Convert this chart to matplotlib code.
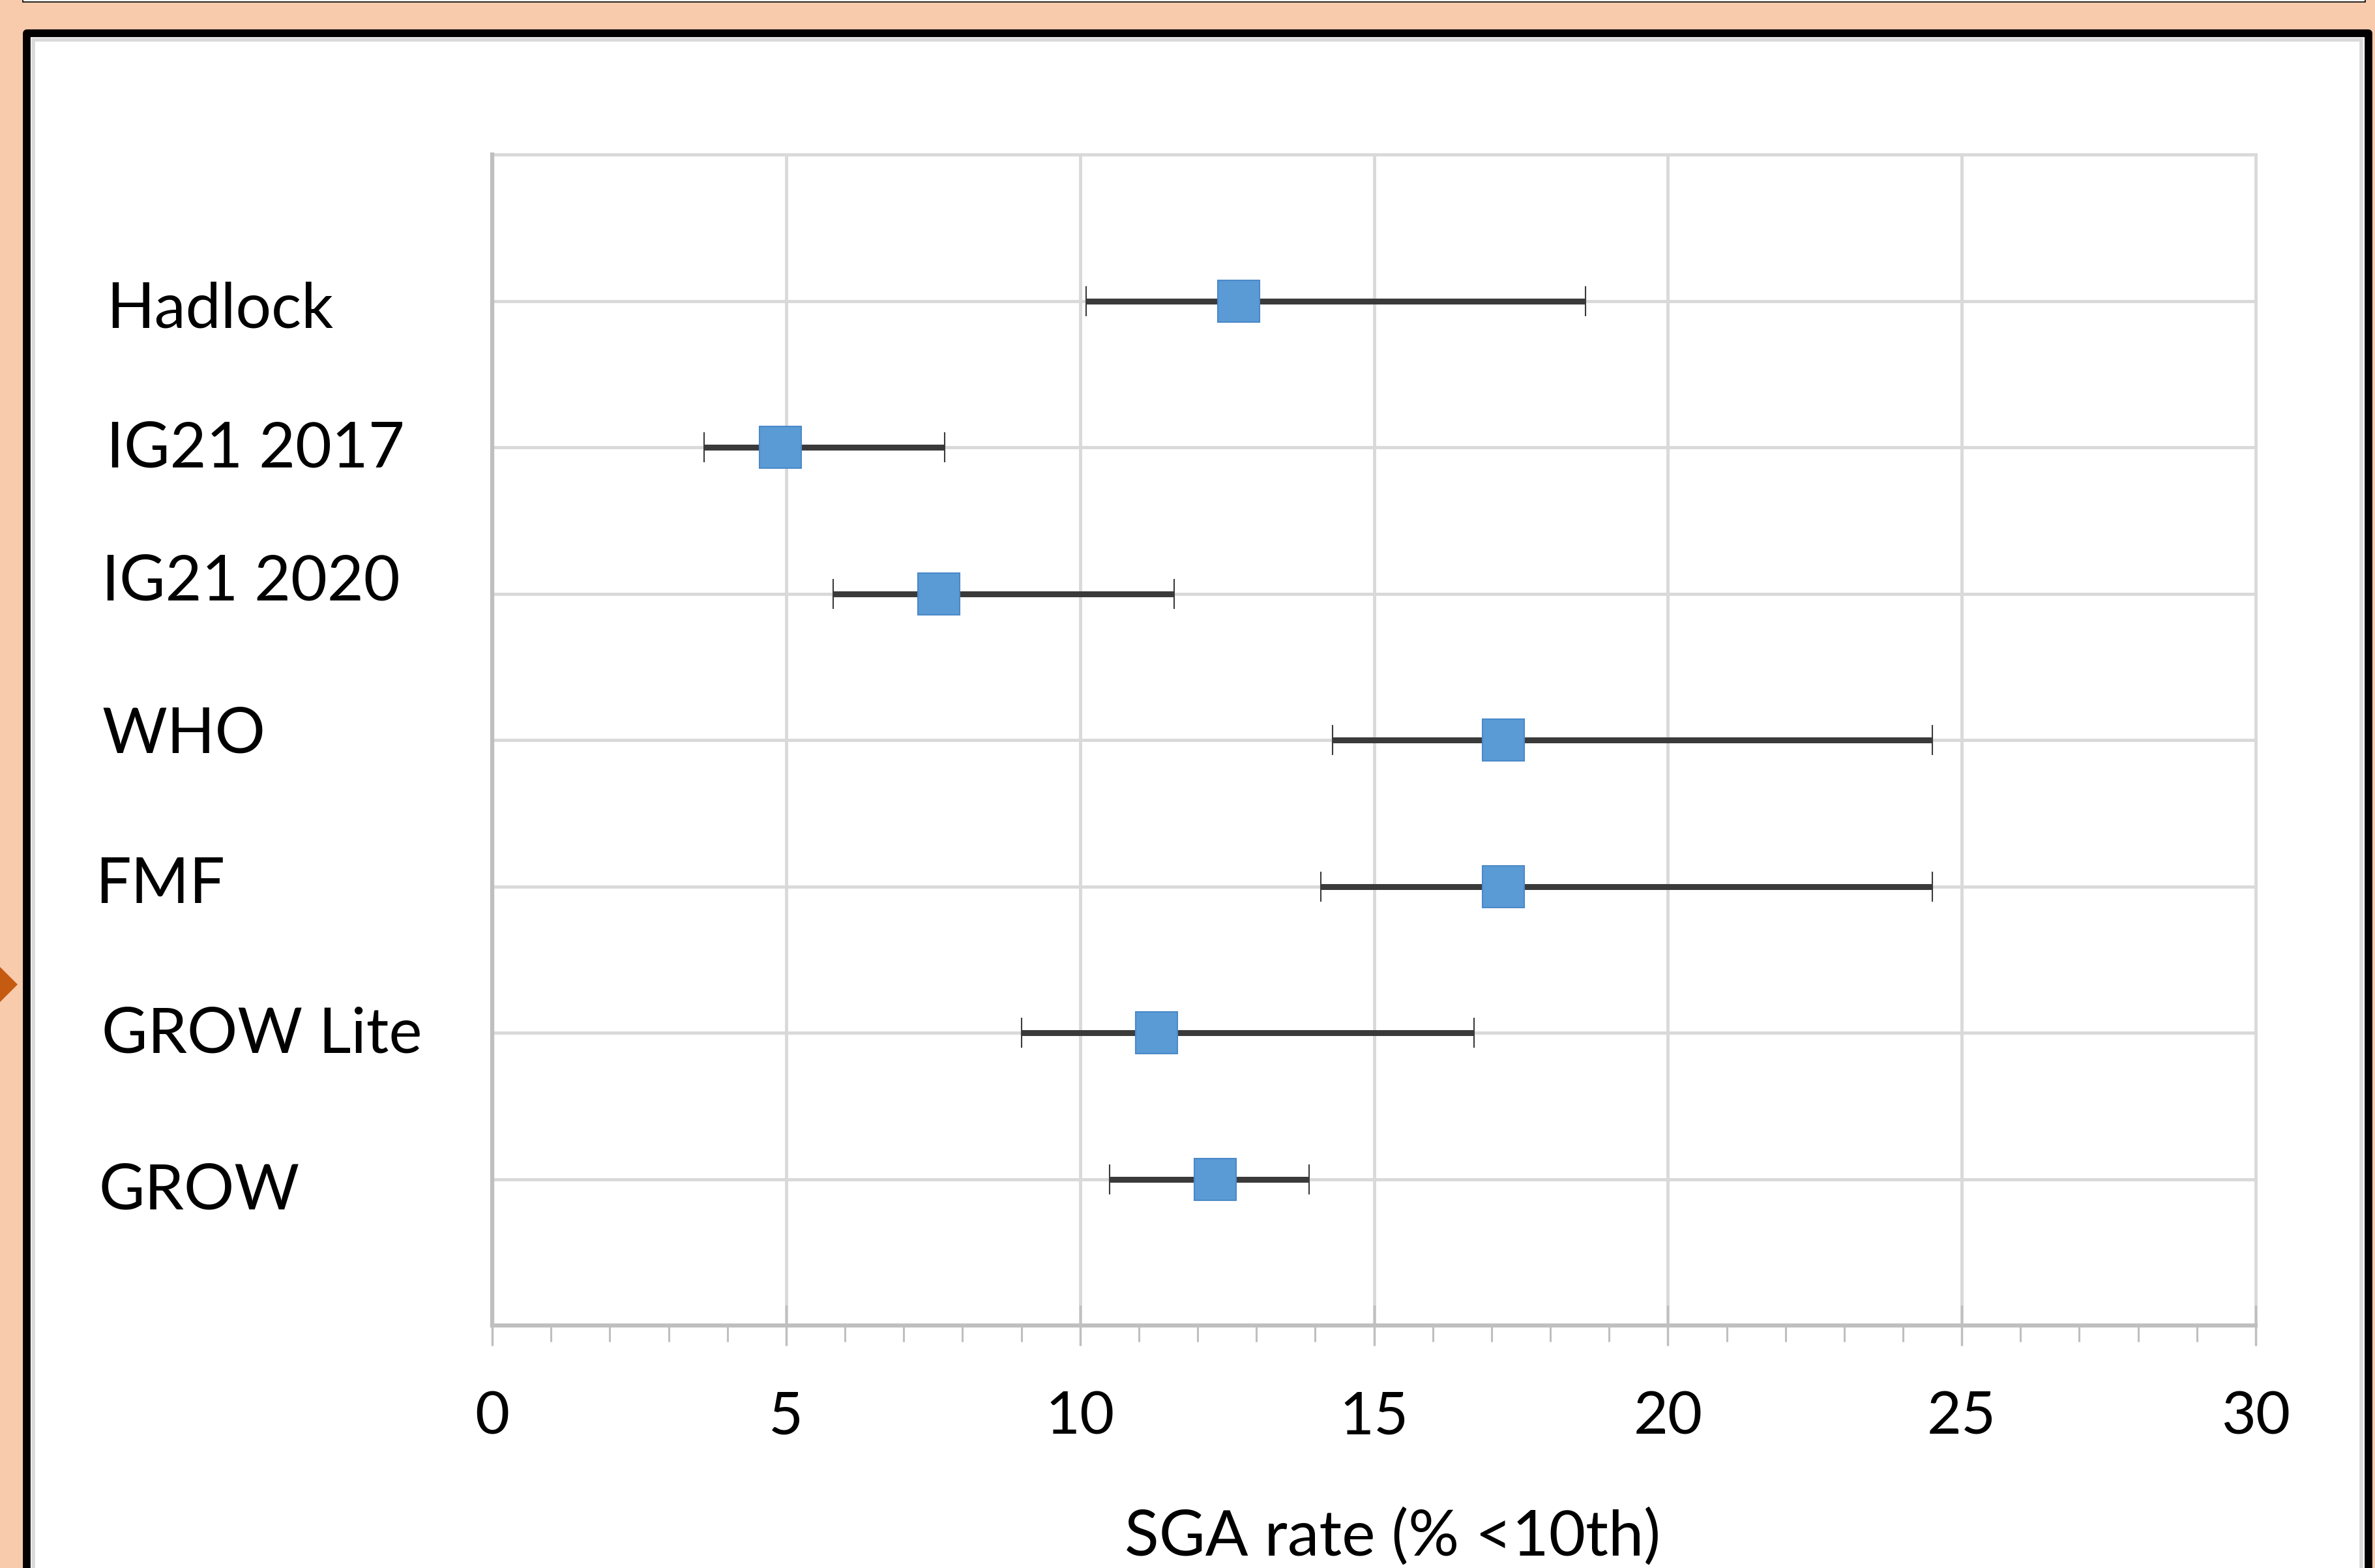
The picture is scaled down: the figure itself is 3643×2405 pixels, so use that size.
import matplotlib.pyplot as plt
from matplotlib.patches import Rectangle, Polygon
from matplotlib.ticker import MultipleLocator
from matplotlib.transforms import blended_transform_factory, offset_copy

plt.rcParams['font.family'] = ['Lato', 'DejaVu Sans']

# data
methods = ["Hadlock", "IG21 2017", "IG21 2020", "WHO", "FMF", "GROW Lite", "GROW"]
sga_rate = [12.7, 4.9, 7.6, 17.2, 17.2, 11.3, 12.3]
ci_low = [10.1, 3.6, 5.8, 14.3, 14.1, 9.0, 10.5]
ci_high = [18.6, 7.7, 11.6, 24.5, 24.5, 16.7, 13.9]
rows = [7, 6, 5, 4, 3, 2, 1]
x_ticks = [0, 5, 10, 15, 20, 25, 30]

# hand placed text boxes in the original (left edge px, vertical nudge in rows)
label_left = [163, 163, 156, 156, 146, 156, 151]
label_nudge = [-0.03, 0.02, 0.11, 0.07, 0.04, 0.02, -0.05]

W, H = 3643, 2405


def fx(p):
    return p / W


def fy(p):
    return 1 - p / H


fig = plt.figure(figsize=(W / 100, H / 100), dpi=100, facecolor='#F8CBAD')

# box above (only its bottom edge shows)
fig.patches.append(Rectangle((fx(35), fy(3)), fx(3628) - fx(35), 60 / H,
                             transform=fig.transFigure, facecolor='white',
                             edgecolor='black', lw=1.2, zorder=-10))
# white panel with black frame and grey inner shadow
fig.patches.append(Rectangle((fx(41), fy(2700)), fx(3633) - fx(41), fy(51) - fy(2700),
                             transform=fig.transFigure, facecolor='white',
                             edgecolor='black', lw=8.5, joinstyle='round', zorder=-10))
fig.patches.append(Rectangle((fx(51), fy(2700)), fx(3622) - fx(51), fy(61) - fy(2700),
                             transform=fig.transFigure, facecolor='none',
                             edgecolor='#D9D9D9', lw=4, zorder=-9))
# orange marker on the left edge
fig.patches.append(Polygon([(fx(0), fy(1483)), (fx(27), fy(1510)), (fx(0), fy(1537))],
                           closed=True, transform=fig.transFigure,
                           facecolor='#C55A11', edgecolor='none', zorder=-9))

ax = fig.add_axes([fx(755), fy(2033), fx(3460) - fx(755), fy(237) - fy(2033)])
ax.set_facecolor('white')
ax.set_xlim(0, 30)
ax.set_ylim(0, 8)

ax.set_xticks(x_ticks)
ax.xaxis.set_minor_locator(MultipleLocator(1))
ax.set_yticks(range(1, 9))
ax.set_yticklabels([])
ax.tick_params(axis='y', length=0)
ax.tick_params(axis='x', which='major', direction='inout', length=44, width=2.5,
               color='#BFBFBF', labelsize=66, pad=50, labelcolor='black')
ax.tick_params(axis='x', which='minor', direction='out', length=18, width=2.2,
               color='#BFBFBF')

ax.grid(True, which='major', color='#D9D9D9', lw=3.5)
ax.set_axisbelow(True)
for gl in ax.get_xgridlines() + ax.get_ygridlines():
    gl.set_clip_on(False)

for side in ['top', 'right']:
    ax.spines[side].set_visible(False)
for side in ['left', 'bottom']:
    ax.spines[side].set_color('#BFBFBF')
    ax.spines[side].set_linewidth(4.5)

lo_err = [m - lo for m, lo in zip(sga_rate, ci_low)]
hi_err = [hi - m for m, hi in zip(sga_rate, ci_high)]
ax.errorbar(sga_rate, rows, xerr=[lo_err, hi_err], fmt='s', ms=46,
            mfc='#5B9BD5', mec='#4A89C8', mew=1.5, ecolor='#3A3A3A',
            elinewidth=6.5, capsize=16.5, capthick=3.8, zorder=3)

# method names, drawn as separate text boxes left of the plot area
trans = blended_transform_factory(fig.transFigure, ax.transData)
trans = offset_copy(trans, fig=fig, y=-25, units='points')
for name, left, row, nudge in zip(methods, label_left, rows, label_nudge):
    ax.text(fx(left), row + nudge, name, transform=trans, ha='left',
            va='baseline', fontsize=69.5, color='black', clip_on=False)

fig.text(fx(2136), fy(2386), "SGA rate (% <10th)", ha='center', va='baseline',
         fontsize=70, color='black')

fig.savefig('out.png', dpi=100, facecolor=fig.get_facecolor())
